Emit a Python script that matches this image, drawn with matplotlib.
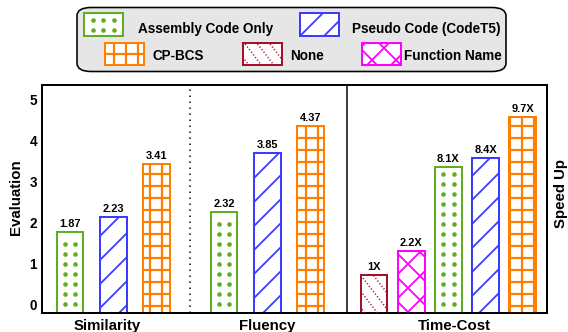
#!/usr/bin/env python3
import matplotlib as mpl
import matplotlib.pyplot as plt
from matplotlib.patches import Rectangle, FancyBboxPatch
from matplotlib.lines import Line2D

plt.rcParams['font.family'] = ['Liberation Sans', 'DejaVu Sans']
plt.rcParams['font.weight'] = 'bold'

W, H = 568, 332

# methods and their look
methods = ["Assembly Code Only", "Pseudo Code (CodeT5)", "CP-BCS", "None", "Function Name"]
colors = {
    "Assembly Code Only": "#5fae1f",
    "Pseudo Code (CodeT5)": "#3c3cff",
    "CP-BCS": "#ff8000",
    "None": "#a5102e",
    "Function Name": "#ff00ff",
}
# "dots" and "dotline" are drawn by hand, the rest are matplotlib hatches
hatches = {
    "Assembly Code Only": "dots",
    "Pseudo Code (CodeT5)": "/",
    "CP-BCS": "+",
    "None": "dotline",
    "Function Name": "x",
}
hatch_lw = {
    "Assembly Code Only": 1.0,
    "Pseudo Code (CodeT5)": 1.8,
    "CP-BCS": 2.2,
    "None": 1.0,
    "Function Name": 1.8,
}

# evaluation part (left axis)
metrics = ["Similarity", "Fluency"]
eval_methods = ["Assembly Code Only", "Pseudo Code (CodeT5)", "CP-BCS"]
eval_heights = [[1.77, 2.15, 3.44], [2.27, 3.70, 4.37]]
eval_labels = [["1.87", "2.23", "3.41"], ["2.32", "3.85", "4.37"]]

# time-cost part (right axis, no ticks)
time_group = "Time-Cost"
time_methods = ["None", "Function Name", "Assembly Code Only", "Pseudo Code (CodeT5)", "CP-BCS"]
time_heights = [0.72, 1.31, 3.36, 3.58, 4.59]
time_labels = ["1X", "2.2X", "8.1X", "8.4X", "9.7X"]

yticks = [0, 1, 2, 3, 4, 5]


def set_hlw(patch, lw):
    if hasattr(patch, "set_hatch_linewidth"):
        patch.set_hatch_linewidth(lw)


def add_pattern(container, patch, kind, color, x0, x1, y0, y1, inv, tr, from_bottom):
    """x0..y1 in display pixels; inv maps display -> artist coords."""
    if kind == "dots":
        ncol = max(1, int((x1 - x0) // 10))
        cx = (x0 + x1) / 2
        xs = [cx + (k - (ncol - 1) / 2) * 10.5 for k in range(ncol)]
        if from_bottom:
            ys = []
            y = y0 + 8.5
            while y < y1 - 4:
                ys.append(y)
                y += 10
        else:
            nrow = max(1, int((y1 - y0) // 10))
            cy = (y0 + y1) / 2
            ys = [cy + (k - (nrow - 1) / 2) * 10 for k in range(nrow)]
        pts = inv.transform([(x, y) for y in ys for x in xs])
        ln = Line2D(pts[:, 0], pts[:, 1], linestyle="none", marker="o",
                    markersize=4.6, color=color, markeredgewidth=0,
                    transform=tr, zorder=3)
        container.add_artist(ln)
    elif kind == "dotline":
        h = y1 - y0
        slope = 1.3
        c = x0 - h / slope + 4
        while c < x1:
            pts = inv.transform([(c, y1), (c + h / slope, y0)])
            ln = Line2D(pts[:, 0], pts[:, 1], color=color, linewidth=1.5,
                        linestyle=(0, (0.8, 1.4)), transform=tr, zorder=3)
            container.add_artist(ln)
            ln.set_clip_path(patch)
            c += 12.5


def draw_bar(ax, x, h, label, method, y0, width=0.74):
    kind = hatches[method]
    hatch = None if kind in ("dots", "dotline") else kind
    with mpl.rc_context({"hatch.linewidth": hatch_lw[method]}):
        bars = ax.bar(x, h - y0, bottom=y0, width=width, color="white",
                      edgecolor=colors[method], hatch=hatch,
                      linewidth=2, zorder=2)
    b = bars[0]
    set_hlw(b, hatch_lw[method])
    if hatch is None:
        (px0, py0), (px1, py1) = ax.transData.transform([(x - width / 2, y0), (x + width / 2, h)])
        add_pattern(ax, b, kind, colors[method], px0, px1, py0, py1,
                    ax.transData.inverted(), ax.transData, True)
    ax.annotate(label, (x, h), xytext=(0, 3), textcoords="offset points",
                ha="center", va="bottom", fontsize=11, fontweight="bold")


fig = plt.figure(figsize=(W / 72, H / 72), dpi=72)
ax = fig.add_axes([42 / W, 1 - 312.7 / H, 505.3 / W, 227.7 / H])
y0, y1 = -0.19, 5.365
ax.set_xlim(0, 14)
ax.set_ylim(y0, y1)
ax2 = ax.twinx()
ax2.set_xlim(0, 14)
ax2.set_ylim(y0, y1)
ax2.set_yticks([])

group_centers = [1.976, 6.24]
spacing = 1.2
for g, metric in enumerate(metrics):
    for i, m in enumerate(eval_methods):
        x = group_centers[g] + (i - 1) * spacing
        draw_bar(ax, x, eval_heights[g][i], eval_labels[g][i], m, y0)

t_center, t_spacing = 11.26, 1.03
for i, m in enumerate(time_methods):
    x = t_center + (i - 2) * t_spacing
    draw_bar(ax2, x, time_heights[i], time_labels[i], m, y0)

# separators
ax.axvline(4.1, color="black", linestyle=(0, (1, 3)), linewidth=1.5, zorder=1)
ax.axvline(8.46, color="black", linewidth=1.5, zorder=1)

ax.set_yticks(yticks)
ax.set_yticklabels([str(t) for t in yticks], fontsize=13.5, fontweight="bold")
ax.set_xticks([1.81, 6.23, 11.43])
ax.set_xticklabels(metrics + [time_group], fontsize=15, fontweight="bold")
ax.tick_params(axis="both", length=0)
ax.tick_params(axis="y", pad=5)
ax.tick_params(axis="x", pad=6)
for a in (ax, ax2):
    for s in a.spines.values():
        s.set_linewidth(1.8)
        s.set_color("black")

fig.text(16 / W, 1 - 197 / H, "Evaluation", rotation=90, ha="center", va="center",
         fontsize=15, fontweight="bold")
fig.text(561 / W, 1 - 193 / H, "Speed Up", rotation=90, ha="center", va="center",
         fontsize=15, fontweight="bold")

# legend laid out by hand: two rows inside a rounded grey box
box = FancyBboxPatch((77 / W, 1 - 71.5 / H), 429 / W, 64 / H,
                     boxstyle="round,pad=0,rounding_size=0.025",
                     transform=fig.transFigure, facecolor="#e6e6e6",
                     edgecolor="black", linewidth=1.6)
fig.add_artist(box)

legend_items = [
    ("Assembly Code Only", 83.5, 13.5, 138, 32.5),
    ("Pseudo Code (CodeT5)", 300, 13.5, 352, 32.5),
    ("CP-BCS", 104.5, 43, 153, 60),
    ("None", 243, 43, 290, 60),
    ("Function Name", 362, 43, 404.5, 60),
]
for m, hx, hy, tx, ty in legend_items:
    kind = hatches[m]
    hatch = None if kind in ("dots", "dotline") else kind
    with mpl.rc_context({"hatch.linewidth": hatch_lw[m]}):
        r = Rectangle((hx / W, 1 - (hy + 22) / H), 39 / W, 22 / H,
                      transform=fig.transFigure, facecolor="white",
                      edgecolor=colors[m], hatch=hatch, linewidth=2)
    set_hlw(r, hatch_lw[m])
    fig.add_artist(r)
    if hatch is None:
        add_pattern(fig, r, kind, colors[m], hx + 1, hx + 38, H - hy - 21, H - hy - 1,
                    fig.transFigure.inverted(), fig.transFigure, False)
    fig.text(tx / W, 1 - ty / H, m, ha="left", va="baseline",
             fontsize=13.5, fontweight="bold")

fig.savefig("out.png", dpi=72)
